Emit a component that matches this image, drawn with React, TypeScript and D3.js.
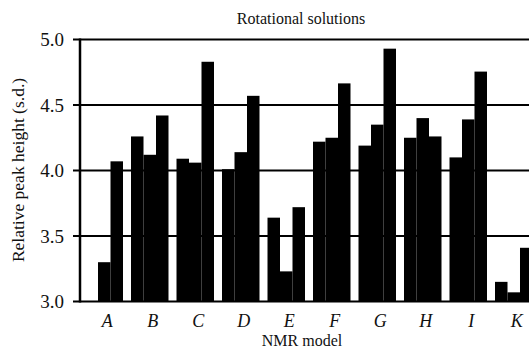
import React from "react";
import * as d3 from "d3";

const categories = ["A", "B", "C", "D", "E", "F", "G", "H", "I", "K"];
const series1 = [3.0, 4.26, 4.09, 4.01, 3.64, 4.22, 4.19, 4.25, 4.1, 3.15];
const series2 = [3.3, 4.12, 4.06, 4.14, 3.23, 4.25, 4.35, 4.4, 4.39, 3.07];
const series3 = [4.07, 4.42, 4.83, 4.57, 3.72, 4.665, 4.93, 4.26, 4.755, 3.41];
const yTicks = [3.0, 3.5, 4.0, 4.5, 5.0];
const title = "Rotational solutions";
const xTitle = "NMR model";
const yTitle = "Relative peak height (s.d.)";

const W = 529;
const H = 352;
const left = 80;
const right = 538;
const top = 39.5;
const bottom = 301.5;

export default function App() {
  const x0 = d3
    .scaleBand<string>()
    .domain(categories)
    .range([left, right])
    .paddingInner(0.176)
    .paddingOuter(0.121);
  const x1 = d3
    .scaleBand<number>()
    .domain([0, 1, 2])
    .range([0, x0.bandwidth()])
    .padding(0);
  const y = d3.scaleLinear().domain([3, 5]).range([bottom, top]);
  const seriesList = [series1, series2, series3];
  const font = "'Liberation Serif', 'Times New Roman', serif";

  return (
    <svg
      width={W}
      height={H}
      style={{ position: "absolute", left: 0, top: 0, background: "#fff" }}
      fontFamily={font}
    >
      <rect x={0} y={0} width={W} height={H} fill="#fff" />
      <text x={301} y={24} textAnchor="middle" fontSize={16} fill="#111">
        {title}
      </text>
      {yTicks.map((t) => (
        <g key={t}>
          <line
            x1={left - 7}
            x2={W}
            y1={y(t)}
            y2={y(t)}
            stroke="#000"
            strokeWidth={2}
          />
          <text
            x={left - 16}
            y={y(t)}
            dy="0.35em"
            textAnchor="end"
            fontSize={19}
            fill="#111"
          >
            {d3.format(".1f")(t)}
          </text>
        </g>
      ))}
      {categories.map((c, i) => (
        <g key={c} transform={`translate(${x0(c)},0)`}>
          {seriesList.map((s, j) => (
            <rect
              key={j}
              x={x1(j)}
              y={y(s[i])}
              width={x1.bandwidth()}
              height={bottom - y(s[i])}
              fill="#000"
            />
          ))}
        </g>
      ))}
      <line x1={left} x2={left} y1={top - 1} y2={bottom + 1} stroke="#000" strokeWidth={2.5} />
      {categories.map((c) => (
        <text
          key={c}
          x={(x0(c) as number) + x0.bandwidth() / 2 + 3}
          y={327}
          textAnchor="middle"
          fontSize={18}
          fontStyle="italic"
          fill="#111"
        >
          {c}
        </text>
      ))}
      <text x={302} y={346} textAnchor="middle" fontSize={16} fill="#111">
        {xTitle}
      </text>
      <text
        transform={`translate(24,170) rotate(-90)`}
        textAnchor="middle"
        fontSize={17.5}
        fill="#111"
      >
        {yTitle}
      </text>
    </svg>
  );
}
